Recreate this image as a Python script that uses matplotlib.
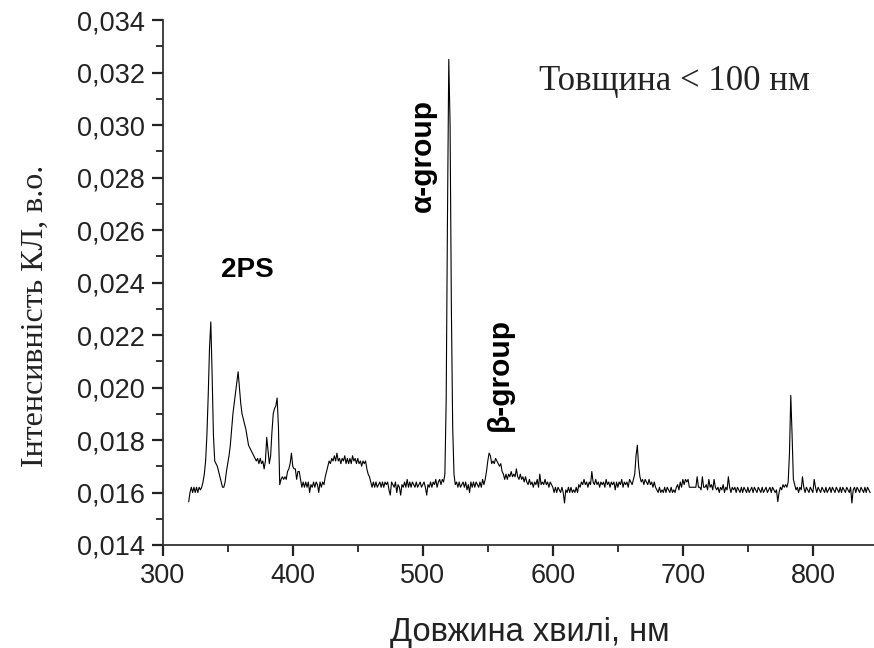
import numpy as np
import matplotlib
matplotlib.use("Agg")
import matplotlib.pyplot as plt
from matplotlib.ticker import FixedLocator, MultipleLocator

# intensity (a.u.) sampled every 1 nm from 320 nm
intensity = [
    # 320-329
    .01565, .0160, .0162, .0160, .0162, .0160, .0162, .0160, .0162, .0161,
    # 330-339
    .0162, .0164, .0167, .0172, .0182, .0197, .0215, .0225, .0205, .0182,
    # 340-349
    .0172, .0171, .0170, .0168, .0166, .0164, .0162, .0162, .0164, .0168,
    # 350-359
    .0171, .0174, .0178, .0184, .0190, .0194, .0198, .0202, .0206, .0200,
    # 360-369
    .0194, .0190, .0188, .0186, .0184, .0181, .0178, .0177, .0176, .0175,
    # 370-379
    .0174, .0173, .0172, .0173, .0171, .0173, .0171, .0172, .0169, .0172,
    # 380-389
    .0181, .0176, .0171, .0174, .0183, .0190, .0192, .0193, .0196, .0185,
    # 390-399
    .0163, .0165, .0166, .0165, .0166, .0165, .0168, .0169, .0171, .0175,
    # 400-409
    .0170, .0169, .0169, .0165, .0168, .0168, .0165, .0162, .0164, .0162,
    # 410-419
    .0164, .0162, .0164, .0160, .0163, .0162, .0164, .0162, .0164, .0163,
    # 420-429
    .0160, .0164, .0162, .0164, .0163, .0166, .0168, .0170, .0172, .0171,
    # 430-439
    .0173, .0172, .0174, .0172, .0175, .0172, .0173, .0171, .0173, .0172,
    # 440-449
    .0174, .0171, .0173, .0171, .0173, .0171, .0174, .0172, .0173, .0171,
    # 450-459
    .0173, .0171, .0172, .0170, .0172, .0171, .0172, .0169, .0167, .0166,
    # 460-469
    .0164, .0162, .0164, .0162, .0164, .0162, .0163, .0164, .0162, .0164,
    # 470-479
    .0162, .0164, .0163, .0164, .0161, .0159, .0164, .0163, .0162, .0164,
    # 480-489
    .0160, .0163, .0162, .0159, .0163, .0162, .0164, .0162, .0165, .0162,
    # 490-499
    .0164, .0162, .0164, .0163, .0162, .0164, .0162, .0163, .0164, .0162,
    # 500-509
    .0163, .0164, .0162, .0159, .0163, .0162, .0164, .0162, .0164, .0163,
    # 510-519
    .0165, .0162, .0164, .0165, .0163, .0165, .0164, .0167, .0195, .0265,
    # 520-529
    .0325, .0300, .0230, .0185, .0167, .0163, .0164, .0162, .0164, .0162,
    # 530-539
    .0163, .0164, .0162, .0164, .0161, .0163, .0160, .0164, .0162, .0164,
    # 540-549
    .0162, .0164, .0163, .0162, .0164, .0162, .0165, .0163, .0165, .0168,
    # 550-559
    .0172, .0175, .0174, .0171, .0172, .0171, .0173, .0172, .0171, .0170,
    # 560-569
    .0171, .0168, .0167, .0165, .0167, .0165, .0167, .0166, .0168, .0166,
    # 570-579
    .0167, .0166, .0169, .0166, .0165, .0167, .0165, .0166, .0164, .0166,
    # 580-589
    .0164, .0163, .0165, .0163, .0164, .0162, .0164, .0163, .0165, .0162,
    # 590-599
    .0167, .0163, .0164, .0163, .0165, .0163, .0164, .0162, .0164, .0163,
    # 600-609
    .0162, .0160, .0162, .0160, .0162, .0161, .0160, .0162, .0160, .0156,
    # 610-619
    .0161, .0160, .0162, .0160, .0162, .0160, .0161, .0160, .0162, .0160,
    # 620-629
    .0163, .0162, .0164, .0163, .0165, .0163, .0164, .0162, .0164, .0163,
    # 630-639
    .0168, .0164, .0163, .0165, .0163, .0164, .0162, .0164, .0163, .0164,
    # 640-649
    .0162, .0165, .0163, .0164, .0162, .0164, .0163, .0164, .0161, .0164,
    # 650-659
    .0162, .0164, .0163, .0165, .0162, .0164, .0163, .0164, .0162, .0165,
    # 660-669
    .0164, .0163, .0165, .0167, .0174, .0178, .0170, .0166, .0164, .0165,
    # 670-679
    .0163, .0165, .0164, .0163, .0165, .0163, .0164, .0162, .0164, .0162,
    # 680-689
    .0161, .0160, .0162, .0160, .0161, .0160, .0162, .0160, .0162, .0161,
    # 690-699
    .0160, .0162, .0160, .0161, .0160, .0162, .0163, .0161, .0164, .0162,
    # 700-709
    .0165, .0163, .0165, .0164, .0165, .0162, .0162, .0162, .0162, .0162,
    # 710-719
    .0162, .0166, .0162, .0162, .0161, .0166, .0162, .0162, .0163, .0161,
    # 720-729
    .0165, .0162, .0163, .0161, .0165, .0162, .0161, .0162, .0160, .0162,
    # 730-739
    .0161, .0163, .0160, .0162, .0161, .0166, .0162, .0160, .0162, .0161,
    # 740-749
    .0162, .0160, .0162, .0161, .0160, .0162, .0160, .0162, .0161, .0160,
    # 750-759
    .0162, .0160, .0161, .0162, .0160, .0162, .0161, .0160, .0162, .0161,
    # 760-769
    .0160, .0162, .0160, .0161, .0162, .0160, .0161, .0162, .0160, .0162,
    # 770-779
    .0161, .0160, .0161, .01565, .0160, .0162, .0161, .0163, .0162, .0163,
    # 780-789
    .0162, .0164, .0175, .0197, .0182, .0165, .0163, .0161, .0162, .0160,
    # 790-799
    .0162, .0161, .0166, .0162, .0160, .0162, .0161, .0160, .0162, .0161,
    # 800-809
    .0160, .0165, .0162, .0160, .0162, .0161, .0160, .0162, .0161, .0160,
    # 810-819
    .0162, .0160, .0161, .0162, .0160, .0162, .0161, .0160, .0162, .0161,
    # 820-829
    .0160, .0162, .0160, .0162, .0161, .0160, .0162, .0161, .0160, .0162,
    # 830-839
    .0156, .0161, .0162, .0160, .0162, .0161, .0160, .0162, .0161, .0160,
    # 840-844
    .0162, .0160, .0162, .0161, .0160,
]
wavelength = np.arange(320, 320 + len(intensity))

x_ticks = [300, 400, 500, 600, 700, 800]
y_ticks = [0.014, 0.016, 0.018, 0.020, 0.022, 0.024, 0.026, 0.028, 0.030, 0.032, 0.034]
y_tick_labels = ["0,014", "0,016", "0,018", "0,020", "0,022", "0,024",
                 "0,026", "0,028", "0,030", "0,032", "0,034"]

annotations = [
    ("2PS", 365, 0.02448, 0, 20),
    ("α-group", 500, 0.02882, 90, 21.5),
    ("β-group", 559.5, 0.02048, 90, 21.5),
]

fig = plt.figure(figsize=(8.74, 6.48), dpi=100)
W, H = 874, 648
ax = fig.add_axes([162.7 / W, (H - 545) / H, (874 - 162.7) / W, 525 / H])

ax.plot(wavelength, intensity, color="black", lw=0.8)

ax.set_xlim(300, 847)
ax.set_ylim(0.014, 0.034)
ax.xaxis.set_major_locator(FixedLocator(x_ticks))
ax.xaxis.set_minor_locator(MultipleLocator(50))
ax.yaxis.set_major_locator(FixedLocator(y_ticks))
ax.yaxis.set_minor_locator(MultipleLocator(0.001))
ax.set_yticklabels(y_tick_labels)
ax.set_xticklabels([str(t) for t in x_ticks])

for s in ["top", "right"]:
    ax.spines[s].set_visible(False)
for s in ["left", "bottom"]:
    ax.spines[s].set_linewidth(1.3)
    ax.spines[s].set_color("#333333")

ax.tick_params(which="major", direction="out", length=8, width=1.6, color="#222222",
               labelsize=19.5, labelcolor="#222222", pad=5)
ax.tick_params(which="minor", direction="out", length=5, width=1.3, color="#222222")
for lab in ax.get_xticklabels() + ax.get_yticklabels():
    lab.set_family("Liberation Sans")

ax.set_xlabel("Довжина хвилі, нм", fontsize=23.5, family="Liberation Sans", color="#222222")
ax.set_ylabel("Інтенсивність КЛ, в.о.", fontsize=23, family="Liberation Serif", color="#222222")
ax.xaxis.set_label_coords((530 - 162.7) / 711.3, -(632 - 545) / 525)
ax.yaxis.set_label_coords(-(162.7 - 35) / 711.3, (545 - 316) / 525)
ax.xaxis.label.set_va("center")
ax.yaxis.label.set_va("center")

for txt, xv, yv, rot, fs in annotations:
    ax.text(xv, yv, txt, rotation=rot, fontsize=fs, fontweight="bold",
            family="Liberation Sans", ha="center", va="center")

ax.text(0.72, 0.882, "Товщина < 100 нм", transform=ax.transAxes, fontsize=25,
        family="Liberation Serif", ha="center", va="center", color="#222222")

fig.savefig("out.png", dpi=100)
